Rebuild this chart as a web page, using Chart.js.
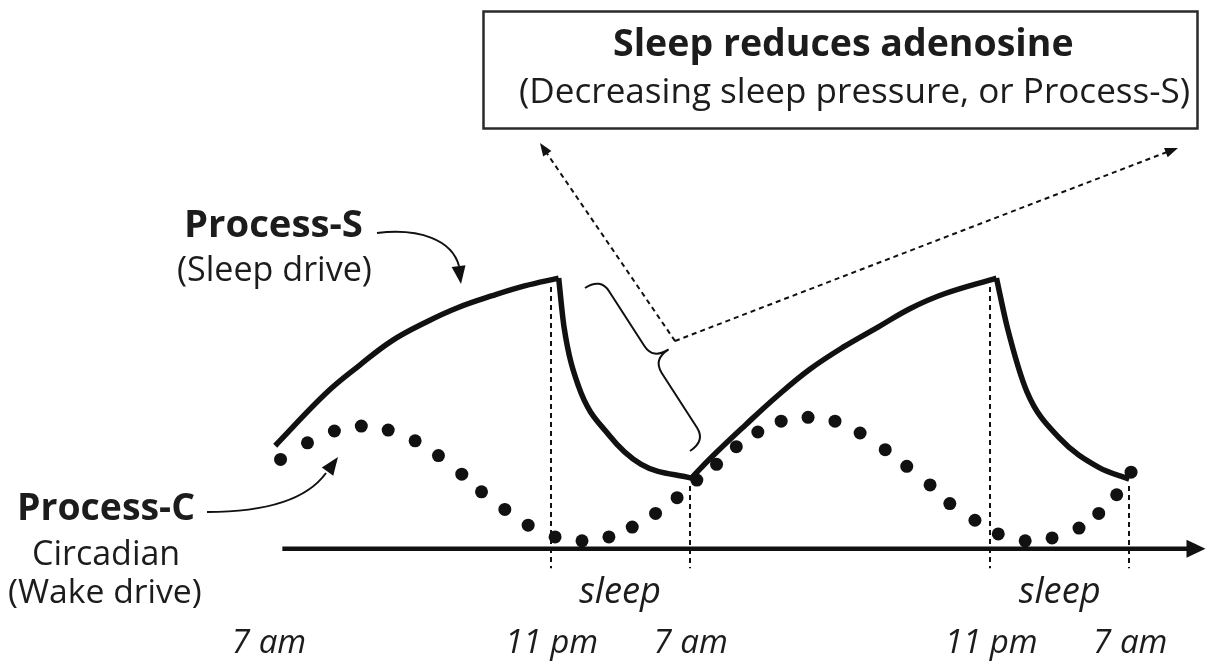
<!DOCTYPE html>
<html lang="en">
<head>
  <meta charset="UTF-8" />
  <title>Two-process model of sleep</title>
  <script src="https://cdn.jsdelivr.net/npm/chart.js"></script>
  <style>
    body {
      margin: 0;
      background: #fff;
    }

    .chart-wrapper {
      width: 1212px;
      height: 664px;
    }
  </style>
</head>
<body>
  <div class="chart-wrapper">
    <canvas id="sleepChart"></canvas>
  </div>

  <script>
    // x = hours after the first 7 am, y = level (arbitrary units)
    const sHours  = [0.4, 3.2, 5.1, 6.9, 8.8, 10.6, 12.5, 14.3, 16.2,
                     16.5, 17.3, 19.0, 20.8, 23.6,
                     24.7, 26.6, 28.4, 30.2, 32.1, 34.0, 35.8, 37.7, 40.6,
                     41.2, 42.3, 44.1, 46.3, 48.0];
    const sLevels = [10.5, 15.8, 18.7, 21.2, 23.1, 24.6, 25.8, 26.8, 27.6,
                     22.6, 16.6, 11.6, 8.6, 7.2,
                     9.3, 12.6, 15.6, 18.3, 20.6, 22.6, 24.5, 26.0, 27.6,
                     22.6, 16.0, 11.3, 8.3, 7.1];
    const sTurns  = [8, 13, 22]; // peak, trough, peak

    const cHours  = [0.7, 2.2, 3.7, 5.2, 6.7, 8.2, 9.5, 10.8, 11.9, 13.2, 14.5, 16.0,
                     17.5, 19.0, 20.3, 21.6, 22.8, 23.9, 25.0, 26.1, 27.3, 28.6, 30.1,
                     31.6, 33.0, 34.4, 35.6, 36.9, 38.0, 39.4, 40.7, 42.2, 43.7, 45.2,
                     46.3, 47.3, 48.1];
    const cLevels = [9.1, 10.8, 12.0, 12.5, 12.1, 11.0, 9.5, 7.6, 5.8, 4.0, 2.4, 1.2,
                     0.8, 1.2, 2.2, 3.6, 5.2, 7.0, 8.6, 10.4, 11.9, 13.0, 13.4,
                     13.0, 11.8, 10.1, 8.4, 6.5, 4.6, 2.9, 1.5, 0.8, 1.1, 2.1,
                     3.6, 5.5, 7.8];

    const tickHours  = [0, 15.75, 23.5, 40.25, 48];
    const tickLabels = ["7 am", "11 pm", "7 am", "11 pm", "7 am"];
    const sleepFrom  = [15.75, 40.25];
    const sleepTo    = [23.5, 48];

    const ink = "#111";
    const FONT = '"Open Sans", sans-serif';

    function toPoints(hours, levels) {
      return hours.map((h, i) => ({ x: h, y: levels[i] }));
    }

    // cut process S at its turning points so every piece is drawn on its own
    const cuts = [0, ...sTurns, sHours.length - 1];
    const sPieces = [];
    for (let i = 0; i < cuts.length - 1; i++) {
      sPieces.push(toPoints(sHours.slice(cuts[i], cuts[i + 1] + 1), sLevels.slice(cuts[i], cuts[i + 1] + 1)));
    }

    // text squeezed to the width it has in the picture
    function fitText(ctx, text, left, right, baseline, style) {
      ctx.font = style + " 40px " + FONT;
      const size = 40 * (right - left) / ctx.measureText(text).width;
      ctx.font = style + " " + size.toFixed(1) + "px " + FONT;
      ctx.textAlign = "left";
      ctx.fillText(text, left, baseline);
      return size;
    }

    function arrowHead(ctx, fx, fy, tx, ty, len, half) {
      const a = Math.atan2(ty - fy, tx - fx);
      const c = Math.cos(a), s = Math.sin(a);
      ctx.beginPath();
      ctx.moveTo(tx, ty);
      ctx.lineTo(tx - len * c + half * s, ty - len * s - half * c);
      ctx.lineTo(tx - len * c - half * s, ty - len * s + half * c);
      ctx.closePath();
      ctx.fill();
    }

    function brace(ctx, x0, y0, x1, y1, d, q) {
      const L = Math.hypot(x1 - x0, y1 - y0);
      const ux = (x1 - x0) / L, uy = (y1 - y0) / L;
      const vx = uy, vy = -ux;
      const P = (u, v) => [x0 + u * ux + v * vx, y0 + u * uy + v * vy];
      ctx.beginPath();
      ctx.moveTo(...P(0, 0));
      ctx.quadraticCurveTo(...P(0, d / 2), ...P(q, d / 2));
      ctx.lineTo(...P(L / 2 - q, d / 2));
      ctx.quadraticCurveTo(...P(L / 2, d / 2), ...P(L / 2, d));
      ctx.quadraticCurveTo(...P(L / 2, d / 2), ...P(L / 2 + q, d / 2));
      ctx.lineTo(...P(L - q, d / 2));
      ctx.quadraticCurveTo(...P(L, d / 2), ...P(L, 0));
      ctx.stroke();
    }

    // time axis with arrow and the dashed sleep boundaries
    const axisPlugin = {
      id: "axisPlugin",
      beforeDatasetsDraw: (chart) => {
        const ctx = chart.ctx;
        const x = chart.scales.x, y = chart.scales.y;
        const y0 = y.getPixelForValue(0);

        ctx.save();
        ctx.strokeStyle = ink;
        ctx.fillStyle = ink;
        ctx.lineWidth = 4.5;
        ctx.beginPath();
        ctx.moveTo(x.getPixelForValue(0.8), y0);
        ctx.lineTo(x.getPixelForValue(51.4), y0);
        ctx.stroke();
        arrowHead(ctx, x.getPixelForValue(0.8), y0, x.getPixelForValue(x.max), y0, 19, 9);

        ctx.lineWidth = 2;
        ctx.setLineDash([5, 4]);
        const dashed = (h, top) => {
          const px = Math.round(x.getPixelForValue(h));
          ctx.beginPath();
          ctx.moveTo(px, y.getPixelForValue(top));
          ctx.lineTo(px, y.getPixelForValue(-2));
          ctx.stroke();
        };
        sleepFrom.forEach((h) => dashed(h, 26.7));
        sleepTo.forEach((h) => dashed(h, 6.4));
        ctx.restore();
      }
    };

    // labels, call-out box, arrows and brace
    const notesPlugin = {
      id: "notesPlugin",
      afterDatasetsDraw: (chart) => {
        const ctx = chart.ctx;
        const x = chart.scales.x;

        ctx.save();
        ctx.fillStyle = "#1c1c1c";
        ctx.textBaseline = "alphabetic";

        // tick labels
        ctx.font = "italic 40px " + FONT;
        const tickSize = 40 * 93 / ctx.measureText("11 pm").width;
        ctx.font = "italic " + tickSize.toFixed(1) + "px " + FONT;
        ctx.textAlign = "center";
        tickHours.forEach((h, i) => ctx.fillText(tickLabels[i], x.getPixelForValue(h) + 1, 653));

        ctx.font = "italic 40px " + FONT;
        const sleepSize = 40 * 82 / ctx.measureText("sleep").width;
        ctx.font = "italic " + sleepSize.toFixed(1) + "px " + FONT;
        sleepFrom.forEach((h, i) => {
          const mid = (x.getPixelForValue(h) + x.getPixelForValue(sleepTo[i])) / 2;
          ctx.fillText("sleep", mid, 603);
        });

        // side labels
        fitText(ctx, "Process-S", 184, 363, 237, "bold");
        fitText(ctx, "(Sleep drive)", 177, 372, 281, "normal");
        fitText(ctx, "Process-C", 17, 195, 520, "bold");
        fitText(ctx, "Circadian", 32, 180, 565, "normal");
        fitText(ctx, "(Wake drive)", 8, 202, 603, "normal");

        // call-out box
        ctx.strokeStyle = "#2a2a2a";
        ctx.lineWidth = 2.5;
        ctx.strokeRect(483.5, 11.5, 714, 117);
        fitText(ctx, "Sleep reduces adenosine", 613, 1073, 56, "bold");
        fitText(ctx, "(Decreasing sleep pressure, or Process-S)", 519, 1190, 103, "normal");

        // curved pointers
        ctx.strokeStyle = ink;
        ctx.fillStyle = ink;
        ctx.lineWidth = 2;
        ctx.beginPath();
        ctx.moveTo(377, 233);
        ctx.bezierCurveTo(420, 228, 452, 240, 459, 266);
        ctx.stroke();
        arrowHead(ctx, 458, 262, 461, 284, 18, 7);

        ctx.beginPath();
        ctx.moveTo(207, 512);
        ctx.bezierCurveTo(268, 512, 308, 498, 326, 473);
        ctx.stroke();
        arrowHead(ctx, 323, 478, 338, 457, 18, 7);

        // brace over the sleep-time drop
        brace(ctx, 585, 288, 690, 451, 37, 16);

        // dashed arrows to the box
        ctx.setLineDash([5, 4]);
        ctx.beginPath();
        ctx.moveTo(675, 341);
        ctx.lineTo(546, 152);
        ctx.moveTo(675, 341);
        ctx.lineTo(1167, 152);
        ctx.stroke();
        ctx.setLineDash([]);
        arrowHead(ctx, 675, 341, 540, 143, 13, 5);
        arrowHead(ctx, 675, 341, 1178, 148, 13, 5);

        ctx.restore();
      }
    };

    // rising pieces (awake) are smooth splines, falling pieces (asleep) monotone
    const datasets = sPieces.map((piece, i) => ({
      data: piece,
      borderColor: ink,
      borderWidth: 5.5,
      pointRadius: 0,
      fill: false,
      tension: 0.4,
      cubicInterpolationMode: i % 2 === 0 ? "default" : "monotone",
      borderCapStyle: "butt",
      borderJoinStyle: "miter"
    }));

    datasets.push({
      data: toPoints(cHours, cLevels),
      showLine: false,
      pointRadius: 6.5,
      pointBackgroundColor: ink,
      pointBorderWidth: 0,
      borderColor: ink
    });

    new Chart(document.getElementById("sleepChart"), {
      type: "line",
      data: { datasets: datasets },
      options: {
        responsive: true,
        maintainAspectRatio: false,
        animation: false,
        clip: false,
        layout: { padding: { left: 268, right: 2, top: 0, bottom: 0 } },
        plugins: {
          legend: { display: false },
          tooltip: { enabled: false }
        },
        scales: {
          x: { type: "linear", min: 0, max: 52.25, display: false },
          y: { type: "linear", min: -11.1, max: 55.3, display: false }
        }
      },
      plugins: [axisPlugin, notesPlugin]
    });
  </script>
</body>
</html>
